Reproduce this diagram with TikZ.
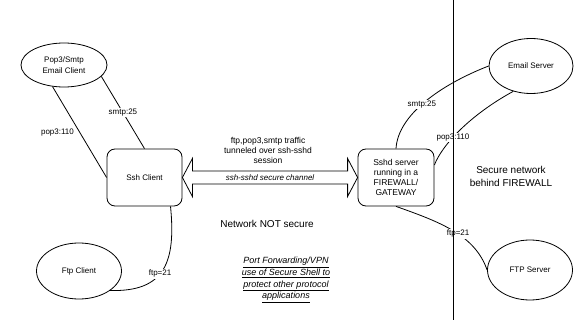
\documentclass[tikz,border=0pt]{standalone}
\usepackage{fontspec}
\setmainfont{Liberation Sans}
\usetikzlibrary{shapes.geometric,calc}

\begin{document}
\begin{tikzpicture}[
    x=1pt, y=-1pt,
    line width=0.8pt,
    every node/.style={font=\fontsize{8}{10}\selectfont},
    host/.style={draw, ellipse, inner sep=0pt, align=center},
    gate/.style={draw, rounded corners=8pt, inner sep=0pt, align=center, minimum height=57pt},
    port/.style={fill=white, inner sep=1pt},
    note/.style={align=center, font=\fontsize{8.5}{10}\selectfont}
]
\useasboundingbox (0,0) rectangle (575,320);
\node[host, minimum width=86pt, minimum height=44pt, font=\fontsize{8}{11}\selectfont] (ec) at (64,65) {Pop3/Smtp\\Email Client};
\node[host, minimum width=85pt, minimum height=56pt] (fc) at (79,271) {Ftp Client};
\node[host, minimum width=84pt, minimum height=55pt] (es) at (531,66) {Email Server};
\node[host, minimum width=85pt, minimum height=60pt] (fs) at (530,270) {FTP Server};
\node[gate, minimum width=75pt] (ssh) at (144.5,177.5) {Ssh Client};
\node[gate, minimum width=76pt, font=\fontsize{8.5}{10}\selectfont] (sshd) at (396,177.5) {Sshd server\\running in a\\FIREWALL/\\GATEWAY};

\draw (ssh.east) -- ++(10,-19) -- ++(0,12.5) -- ($(sshd.west)+(-10,-6.5)$) -- ++(0,-12.5) -- (sshd.west)
    -- ++(-10,19) -- ++(0,-12.5) -- ($(ssh.east)+(10,6.5)$) -- ++(0,12.5) -- cycle;
\node[font=\itshape\fontsize{8}{10}\selectfont] (chan) at (270,178) {ssh-sshd secure channel};
\node[note] (tun) at (268,150) {ftp,pop3,smtp traffic\\tunneled over ssh-sshd\\session};

\draw (ec.242) -- node[left=2pt] {pop3:110} (ssh.west);
\draw (ec.343) -- node[port] {smtp:25} (ssh.north);
\draw (ssh.312) .. controls (176,262) and (165,292) .. node[port, pos=0.55] {ftp=21} (fc.328);
\draw (sshd.north) .. controls (398,115) and (440,85) .. node[port, pos=0.47] {smtp:25} (es.west);
\draw (sshd.18) .. controls (442,145) and (470,115) .. node[port, pos=0.4] {pop3:110} (es.235);
\draw (sshd.south) .. controls (440,222) and (475,235) .. node[port, pos=0.55] {ftp=21} (fs.west);

\node[font=\fontsize{10}{12}\selectfont] (uns) at (267,224) {Network NOT secure};
\node[align=center, font=\fontsize{10}{13}\selectfont] (sec) at (511,176.5) {Secure network\\behind FIREWALL};
\node[align=center, font=\itshape\fontsize{9}{11.7}\selectfont] (pf) at (286,280) {\underline{Port Forwarding/VPN}\\\underline{use of Secure Shell to}\\\underline{protect other protocol}\\\underline{applications}};

\coordinate (fwtop) at (453,0);
\coordinate (fwbot) at (453,320);
\draw[line width=1pt] (fwtop) -- (fwbot);
\end{tikzpicture}
\end{document}
